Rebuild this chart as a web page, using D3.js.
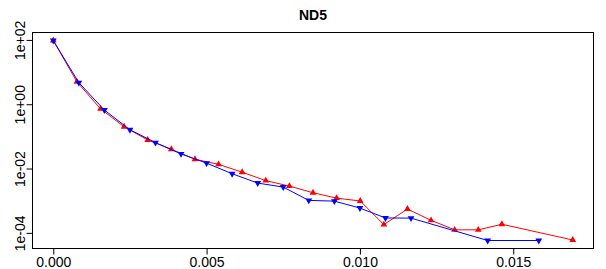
<!DOCTYPE html>
<html>
<head>
<meta charset="utf-8">
<script src="https://cdn.jsdelivr.net/npm/d3@7"></script>
<style>
  body { margin: 0; background: #fff; }
  text { font-family: "Liberation Sans", Arial, sans-serif; }
</style>
</head>
<body>
<div id="chart"></div>
<script>
// chart data
const chartTitle = 'ND5';

const redX = [0, 0.00077, 0.00154, 0.00231, 0.00308, 0.00385, 0.00462, 0.00539, 0.00616, 0.00693,
    0.0077, 0.00847, 0.00924, 0.01001, 0.01078, 0.01155, 0.01232, 0.01309, 0.01386, 0.01463, 0.01694];
const redY = [96, 5.0, 0.72, 0.20, 0.077, 0.040, 0.0195, 0.0135, 0.0077, 0.0042,
    0.00285, 0.00177, 0.0012, 0.00098, 0.00018, 0.00055, 0.000245, 0.000124, 0.000124, 0.000185, 0.00006];

const blueX = [0, 0.000833, 0.001667, 0.0025, 0.003333, 0.004167, 0.005, 0.005833, 0.006667, 0.0075,
    0.008333, 0.009167, 0.01, 0.010833, 0.011667, 0.014167, 0.015833];
const blueY = [96, 4.7, 0.66, 0.161, 0.064, 0.0285, 0.0147, 0.0069, 0.00353, 0.00265,
    0.00102, 0.00097, 0.00059, 0.00029, 0.000287, 0.0000578, 0.0000578];

const xTicks = [0, 0.005, 0.01, 0.015];
const xTickLabels = ['0.000', '0.005', '0.010', '0.015'];
const yTicks = [1e2, 1, 1e-2, 1e-4];
const yTickLabels = ['1e+02', '1e+00', '1e-02', '1e-04'];

const width = 606, height = 269;
const plot = { left: 32.5, right: 593.5, top: 32.5, bottom: 248.5 };

const svg = d3.select('#chart').append('svg')
    .attr('width', width)
    .attr('height', height);

// R style 4% padding on the data range
const allX = redX.concat(blueX);
const allY = redY.concat(blueY).map(v => Math.log10(v));
const [x0, x1] = d3.extent(allX);
const [l0, l1] = d3.extent(allY);
const px = (x1 - x0) * 0.04, py = (l1 - l0) * 0.04;

const x = d3.scaleLinear()
    .domain([x0 - px, x1 + px])
    .range([plot.left, plot.right]);
const y = d3.scaleLog()
    .domain([Math.pow(10, l0 - py), Math.pow(10, l1 + py)])
    .range([plot.bottom, plot.top]);

// x axis
const xAxis = svg.append('g')
    .attr('transform', `translate(0,${plot.bottom})`)
    .call(d3.axisBottom(x).tickValues(xTicks).tickSize(6).tickPadding(3)
        .tickFormat((d, i) => xTickLabels[i]));
xAxis.select('.domain').remove();
xAxis.append('line')
    .attr('x1', x(xTicks[0])).attr('x2', x(xTicks[xTicks.length - 1]))
    .attr('stroke', '#000');
xAxis.selectAll('text').attr('font-size', 14).attr('fill', '#000')
    .attr('font-family', '"Liberation Sans", Arial, sans-serif');

// y axis
const yAxis = svg.append('g')
    .attr('transform', `translate(${plot.left},0)`)
    .call(d3.axisLeft(y).tickValues(yTicks).tickSize(6)
        .tickFormat((d, i) => yTickLabels[i]));
yAxis.select('.domain').remove();
yAxis.append('line')
    .attr('y1', y(yTicks[0])).attr('y2', y(yTicks[yTicks.length - 1]))
    .attr('stroke', '#000');
yAxis.selectAll('.tick text')
    .attr('font-size', 14).attr('fill', '#000')
    .attr('font-family', '"Liberation Sans", Arial, sans-serif')
    .attr('x', null).attr('dy', null)
    .attr('text-anchor', 'middle')
    .attr('transform', 'translate(-8,0) rotate(-90)');

// plot box
svg.append('rect')
    .attr('x', plot.left).attr('y', plot.top)
    .attr('width', plot.right - plot.left)
    .attr('height', plot.bottom - plot.top)
    .attr('fill', 'none')
    .attr('stroke', '#000');

// title
svg.append('text')
    .attr('x', (plot.left + plot.right) / 2)
    .attr('y', 20)
    .attr('text-anchor', 'middle')
    .attr('font-size', 14)
    .attr('font-weight', 'bold')
    .text(chartTitle);

const line = d3.line().x(d => x(d[0])).y(d => y(d[1]));
const tri = d3.symbol().type(d3.symbolTriangle).size(20);

function drawSeries(xs, ys, color, down) {
    const pts = xs.map((v, i) => [v, ys[i]]);
    svg.append('path')
        .datum(pts)
        .attr('d', line)
        .attr('fill', 'none')
        .attr('stroke', color)
        .attr('stroke-width', 1);
    svg.selectAll(null)
        .data(pts)
        .enter().append('path')
        .attr('d', tri)
        .attr('fill', color)
        .attr('transform', d => `translate(${x(d[0])},${y(d[1])})${down ? ' rotate(180)' : ''}`);
}

drawSeries(redX, redY, '#ff0000', false);
drawSeries(blueX, blueY, '#0000ff', true);
</script>
</body>
</html>
